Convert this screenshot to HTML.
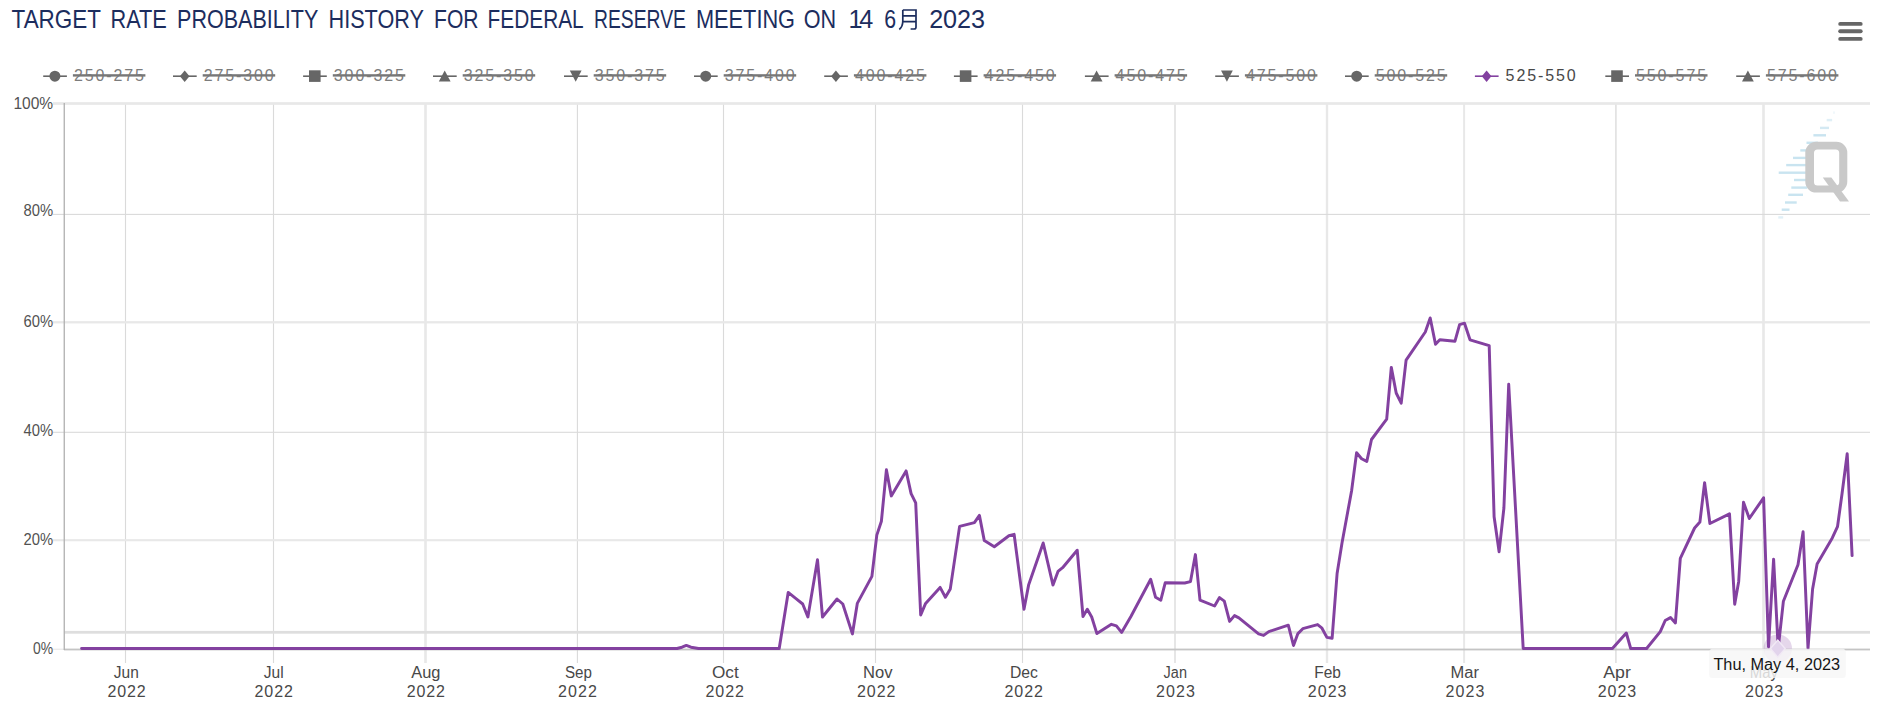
<!DOCTYPE html>
<html><head><meta charset="utf-8"><title>Target Rate Probability History</title>
<style>
html,body{margin:0;padding:0;background:#fff;}
body{width:1881px;height:723px;overflow:hidden;font-family:"Liberation Sans",sans-serif;}
svg{display:block;}
text{font-family:"Liberation Sans",sans-serif;}
</style></head><body>
<svg width="1881" height="723" viewBox="0 0 1881 723">
<rect x="0" y="0" width="1881" height="723" fill="#ffffff"/>

<g id="title">
<text x="11.60" y="28" font-size="25.2" fill="#1c2d5e" textLength="89.43" lengthAdjust="spacingAndGlyphs">TARGET</text>
<text x="110.50" y="28" font-size="25.2" fill="#1c2d5e" textLength="56.37" lengthAdjust="spacingAndGlyphs">RATE</text>
<text x="177.00" y="28" font-size="25.2" fill="#1c2d5e" textLength="141.36" lengthAdjust="spacingAndGlyphs">PROBABILITY</text>
<text x="328.50" y="28" font-size="25.2" fill="#1c2d5e" textLength="95.45" lengthAdjust="spacingAndGlyphs">HISTORY</text>
<text x="434.00" y="28" font-size="25.2" fill="#1c2d5e" textLength="44.54" lengthAdjust="spacingAndGlyphs">FOR</text>
<text x="487.60" y="28" font-size="25.2" fill="#1c2d5e" textLength="96.07" lengthAdjust="spacingAndGlyphs">FEDERAL</text>
<text x="594.00" y="28" font-size="25.2" fill="#1c2d5e" textLength="91.98" lengthAdjust="spacingAndGlyphs">RESERVE</text>
<text x="696.00" y="28" font-size="25.2" fill="#1c2d5e" textLength="99.03" lengthAdjust="spacingAndGlyphs">MEETING</text>
<text x="803.80" y="28" font-size="25.2" fill="#1c2d5e" textLength="32.40" lengthAdjust="spacingAndGlyphs">ON</text>
<text x="848.60" y="28" font-size="25.2" fill="#1c2d5e" letter-spacing="-3.369">14</text>
<text x="884.20" y="28" font-size="25.2" fill="#1c2d5e" textLength="11.84" lengthAdjust="spacingAndGlyphs">6</text>
<text x="929.20" y="28" font-size="25.2" fill="#1c2d5e" letter-spacing="-0.071">2023</text>
<path d="M902.8 10.0 H916.0 V27.3 Q916.0 29.0 914.0 29.0 H910.6 M902.8 10.0 V21 Q902.8 26.6 899.3 29.5 M902.8 15.8 H916.0 M902.8 21.6 H916.0" fill="none" stroke="#1c2d5e" stroke-width="1.7"/>
</g>
<g stroke="#666666" stroke-width="3.9" stroke-linecap="round"><line x1="1840.2" y1="23.9" x2="1860.7" y2="23.9"/><line x1="1840.2" y1="31.2" x2="1860.7" y2="31.2"/><line x1="1840.2" y1="38.9" x2="1860.7" y2="38.9"/></g>
<g id="legend">
<line x1="43.2" y1="76.2" x2="66.9" y2="76.2" stroke="#666666" stroke-width="1.6"/>
<circle cx="54.9" cy="76.2" r="5.5" fill="#666666"/>
<text x="73.90" y="81" font-size="16" fill="#7c7c7c" letter-spacing="1.892">250-275</text>
<rect x="72.9" y="74.2" width="72.5" height="2.4" fill="#777777"/>
<line x1="173.0" y1="76.2" x2="196.7" y2="76.2" stroke="#666666" stroke-width="1.6"/>
<path d="M184.7 70.4 L189.5 76.2 L184.7 82.0 L179.9 76.2 Z" fill="#666666"/>
<text x="203.70" y="81" font-size="16" fill="#7c7c7c" letter-spacing="1.892">275-300</text>
<rect x="202.7" y="74.2" width="72.5" height="2.4" fill="#777777"/>
<line x1="303.1" y1="76.2" x2="326.8" y2="76.2" stroke="#666666" stroke-width="1.6"/>
<rect x="309.0" y="70.3" width="11.6" height="11.6" fill="#666666"/>
<text x="333.80" y="81" font-size="16" fill="#7c7c7c" letter-spacing="1.892">300-325</text>
<rect x="332.8" y="74.2" width="72.5" height="2.4" fill="#777777"/>
<line x1="433.0" y1="76.2" x2="456.7" y2="76.2" stroke="#666666" stroke-width="1.6"/>
<path d="M444.7 70.4 L450.6 81.6 L438.8 81.6 Z" fill="#666666"/>
<text x="463.70" y="81" font-size="16" fill="#7c7c7c" letter-spacing="1.892">325-350</text>
<rect x="462.7" y="74.2" width="72.5" height="2.4" fill="#777777"/>
<line x1="564.0" y1="76.2" x2="587.7" y2="76.2" stroke="#666666" stroke-width="1.6"/>
<path d="M569.8 70.6 L581.6 70.6 L575.7 81.8 Z" fill="#666666"/>
<text x="594.70" y="81" font-size="16" fill="#7c7c7c" letter-spacing="1.892">350-375</text>
<rect x="593.7" y="74.2" width="72.5" height="2.4" fill="#777777"/>
<line x1="694.0" y1="76.2" x2="717.7" y2="76.2" stroke="#666666" stroke-width="1.6"/>
<circle cx="705.7" cy="76.2" r="5.5" fill="#666666"/>
<text x="724.70" y="81" font-size="16" fill="#7c7c7c" letter-spacing="1.892">375-400</text>
<rect x="723.7" y="74.2" width="72.5" height="2.4" fill="#777777"/>
<line x1="824.2" y1="76.2" x2="847.9" y2="76.2" stroke="#666666" stroke-width="1.6"/>
<path d="M835.9 70.4 L840.7 76.2 L835.9 82.0 L831.1 76.2 Z" fill="#666666"/>
<text x="854.90" y="81" font-size="16" fill="#7c7c7c" letter-spacing="1.892">400-425</text>
<rect x="853.9" y="74.2" width="72.5" height="2.4" fill="#777777"/>
<line x1="953.9" y1="76.2" x2="977.6" y2="76.2" stroke="#666666" stroke-width="1.6"/>
<rect x="959.8" y="70.3" width="11.6" height="11.6" fill="#666666"/>
<text x="984.60" y="81" font-size="16" fill="#7c7c7c" letter-spacing="1.892">425-450</text>
<rect x="983.6" y="74.2" width="72.5" height="2.4" fill="#777777"/>
<line x1="1084.9" y1="76.2" x2="1108.6" y2="76.2" stroke="#666666" stroke-width="1.6"/>
<path d="M1096.6 70.4 L1102.5 81.6 L1090.7 81.6 Z" fill="#666666"/>
<text x="1115.60" y="81" font-size="16" fill="#7c7c7c" letter-spacing="1.892">450-475</text>
<rect x="1114.6" y="74.2" width="72.5" height="2.4" fill="#777777"/>
<line x1="1215.2" y1="76.2" x2="1238.9" y2="76.2" stroke="#666666" stroke-width="1.6"/>
<path d="M1221.0 70.6 L1232.8 70.6 L1226.9 81.8 Z" fill="#666666"/>
<text x="1245.90" y="81" font-size="16" fill="#7c7c7c" letter-spacing="1.892">475-500</text>
<rect x="1244.9" y="74.2" width="72.5" height="2.4" fill="#777777"/>
<line x1="1345.0" y1="76.2" x2="1368.7" y2="76.2" stroke="#666666" stroke-width="1.6"/>
<circle cx="1356.7" cy="76.2" r="5.5" fill="#666666"/>
<text x="1375.70" y="81" font-size="16" fill="#7c7c7c" letter-spacing="1.892">500-525</text>
<rect x="1374.7" y="74.2" width="72.5" height="2.4" fill="#777777"/>
<line x1="1474.9" y1="76.2" x2="1498.6" y2="76.2" stroke="#8341a0" stroke-width="1.6"/>
<path d="M1486.6 70.4 L1491.4 76.2 L1486.6 82.0 L1481.8 76.2 Z" fill="#8341a0"/>
<text x="1505.60" y="81" font-size="16" fill="#484848" letter-spacing="1.892">525-550</text>
<line x1="1605.3" y1="76.2" x2="1629.0" y2="76.2" stroke="#666666" stroke-width="1.6"/>
<rect x="1611.2" y="70.3" width="11.6" height="11.6" fill="#666666"/>
<text x="1636.00" y="81" font-size="16" fill="#7c7c7c" letter-spacing="1.892">550-575</text>
<rect x="1635.0" y="74.2" width="72.5" height="2.4" fill="#777777"/>
<line x1="1736.2" y1="76.2" x2="1759.9" y2="76.2" stroke="#666666" stroke-width="1.6"/>
<path d="M1747.9 70.4 L1753.8 81.6 L1742.0 81.6 Z" fill="#666666"/>
<text x="1766.90" y="81" font-size="16" fill="#7c7c7c" letter-spacing="1.892">575-600</text>
<rect x="1765.9" y="74.2" width="72.5" height="2.4" fill="#777777"/>
</g>
<g id="grid">
<rect x="124.95" y="103" width="1.1" height="560" fill="#dadada"/>
<rect x="272.95" y="103" width="1.1" height="560" fill="#dadada"/>
<rect x="424.20" y="103" width="2.6" height="560" fill="#e8e8e8"/>
<rect x="576.85" y="103" width="1.1" height="560" fill="#dadada"/>
<rect x="722.95" y="103" width="1.1" height="560" fill="#dadada"/>
<rect x="874.95" y="103" width="1.1" height="560" fill="#dadada"/>
<rect x="1021.95" y="103" width="1.1" height="560" fill="#dadada"/>
<rect x="1174.15" y="103" width="1.7" height="560" fill="#e2e2e2"/>
<rect x="1325.80" y="103" width="2.4" height="560" fill="#e8e8e8"/>
<rect x="1463.10" y="103" width="2.0" height="560" fill="#e8e8e8"/>
<rect x="1615.05" y="103" width="1.7" height="560" fill="#e2e2e2"/>
<rect x="1762.20" y="103" width="2.6" height="560" fill="#e8e8e8"/>
<rect x="53" y="102.15" width="1817" height="2.7" fill="#e8e8e8"/>
<rect x="53" y="213.85" width="1817" height="1.1" fill="#dadada"/>
<rect x="53" y="321.15" width="1817" height="2.3" fill="#e8e8e8"/>
<rect x="53" y="431.75" width="1817" height="1.1" fill="#dadada"/>
<rect x="53" y="539.15" width="1817" height="2.1" fill="#e8e8e8"/>
<rect x="64" y="630.9" width="1806" height="2.8" fill="#dedede"/>
<rect x="53" y="648.6" width="11" height="1.4" fill="#ececec"/>
<rect x="64" y="648.6" width="1806" height="1.8" fill="#c4c4c4"/>
<rect x="63.6" y="103" width="1.3" height="547" fill="#b0b0b0"/>
</g>
<g id="ylabels">
<text x="13.40" y="109" font-size="16" fill="#525252" textLength="39.75" lengthAdjust="spacingAndGlyphs">100%</text>
<text x="23.50" y="216" font-size="16" fill="#525252" textLength="29.62" lengthAdjust="spacingAndGlyphs">80%</text>
<text x="23.50" y="327" font-size="16" fill="#525252" textLength="29.62" lengthAdjust="spacingAndGlyphs">60%</text>
<text x="23.50" y="436" font-size="16" fill="#525252" textLength="29.62" lengthAdjust="spacingAndGlyphs">40%</text>
<text x="23.50" y="545" font-size="16" fill="#525252" textLength="29.62" lengthAdjust="spacingAndGlyphs">20%</text>
<text x="33.00" y="654" font-size="16" fill="#525252" textLength="20.10" lengthAdjust="spacingAndGlyphs">0%</text>
</g>
<g id="xlabels">
<text x="113.80" y="678" font-size="16" fill="#484848" textLength="24.95" lengthAdjust="spacingAndGlyphs">Jun</text>
<text x="107.50" y="697" font-size="16" fill="#484848" letter-spacing="0.892">2022</text>
<text x="263.80" y="678" font-size="16" fill="#484848" textLength="19.85" lengthAdjust="spacingAndGlyphs">Jul</text>
<text x="254.50" y="697" font-size="16" fill="#484848" letter-spacing="0.958">2022</text>
<text x="411.30" y="678" font-size="16" fill="#484848" textLength="29.17" lengthAdjust="spacingAndGlyphs">Aug</text>
<text x="406.80" y="697" font-size="16" fill="#484848" letter-spacing="0.858">2022</text>
<text x="565.00" y="678" font-size="16" fill="#484848" textLength="26.97" lengthAdjust="spacingAndGlyphs">Sep</text>
<text x="558.00" y="697" font-size="16" fill="#484848" letter-spacing="1.125">2022</text>
<text x="712.00" y="678" font-size="16" fill="#484848" textLength="26.72" lengthAdjust="spacingAndGlyphs">Oct</text>
<text x="705.50" y="697" font-size="16" fill="#484848" letter-spacing="0.958">2022</text>
<text x="863.00" y="678" font-size="16" fill="#484848" textLength="29.45" lengthAdjust="spacingAndGlyphs">Nov</text>
<text x="857.00" y="697" font-size="16" fill="#484848" letter-spacing="0.958">2022</text>
<text x="1010.00" y="678" font-size="16" fill="#484848" textLength="27.95" lengthAdjust="spacingAndGlyphs">Dec</text>
<text x="1004.50" y="697" font-size="16" fill="#484848" letter-spacing="0.958">2022</text>
<text x="1163.60" y="678" font-size="16" fill="#484848" textLength="23.34" lengthAdjust="spacingAndGlyphs">Jan</text>
<text x="1156.10" y="697" font-size="16" fill="#484848" letter-spacing="1.058">2023</text>
<text x="1314.30" y="678" font-size="16" fill="#484848" textLength="26.65" lengthAdjust="spacingAndGlyphs">Feb</text>
<text x="1307.80" y="697" font-size="16" fill="#484848" letter-spacing="1.025">2023</text>
<text x="1450.60" y="678" font-size="16" fill="#484848" textLength="28.36" lengthAdjust="spacingAndGlyphs">Mar</text>
<text x="1445.60" y="697" font-size="16" fill="#484848" letter-spacing="1.058">2023</text>
<text x="1603.30" y="678" font-size="16" fill="#484848" textLength="27.53" lengthAdjust="spacingAndGlyphs">Apr</text>
<text x="1597.80" y="697" font-size="16" fill="#484848" letter-spacing="0.892">2023</text>
<text x="1749.80" y="678" font-size="16" fill="#484848" textLength="28.18" lengthAdjust="spacingAndGlyphs">May</text>
<text x="1745.00" y="697" font-size="16" fill="#484848" letter-spacing="0.825">2023</text>
</g>
<g id="logo">
<rect x="1833" y="111.4" width="2.0" height="2.4" fill="#c9e4f0" fill-opacity="0.25"/>
<rect x="1826.7" y="118.9" width="5.4" height="2.4" fill="#c9e4f0" fill-opacity="0.6"/>
<rect x="1820" y="126.7" width="9.0" height="2.4" fill="#c9e4f0" fill-opacity="0.8"/>
<rect x="1813.4" y="134.1" width="12.6" height="2.4" fill="#c9e4f0" fill-opacity="1"/>
<rect x="1806.5" y="141.6" width="11.5" height="2.4" fill="#c9e4f0" fill-opacity="1"/>
<rect x="1800.3" y="149.2" width="5.7" height="2.4" fill="#c9e4f0" fill-opacity="1"/>
<rect x="1793" y="156.7" width="13.0" height="2.4" fill="#c9e4f0" fill-opacity="1"/>
<rect x="1786.2" y="163.9" width="19.8" height="2.4" fill="#c9e4f0" fill-opacity="1"/>
<rect x="1778.7" y="171.5" width="27.3" height="2.4" fill="#c9e4f0" fill-opacity="1"/>
<rect x="1794" y="178.8" width="12.0" height="2.4" fill="#c9e4f0" fill-opacity="1"/>
<rect x="1791.3" y="186.4" width="16.1" height="2.4" fill="#c9e4f0" fill-opacity="1"/>
<rect x="1788.2" y="193.6" width="14.8" height="2.4" fill="#c9e4f0" fill-opacity="1"/>
<rect x="1785" y="201.3" width="11.7" height="2.4" fill="#c9e4f0" fill-opacity="1"/>
<rect x="1781.7" y="208.5" width="7.8" height="2.4" fill="#c9e4f0" fill-opacity="1"/>
<rect x="1778.3" y="216.2" width="4.9" height="2.4" fill="#c9e4f0" fill-opacity="0.55"/>
<path fill-rule="evenodd" fill="#c9c9c9" d="M1816.3 141.8 H1836.3 A11 11 0 0 1 1847.3 152.8 V181.6 A11 11 0 0 1 1836.3 192.6 H1816.3 A11 11 0 0 1 1805.3 181.6 V152.8 A11 11 0 0 1 1816.3 141.8 Z M1817.5 149.4 H1835.7 A3.5 3.5 0 0 1 1839.2 152.9 V182.0 A3.5 3.5 0 0 1 1835.7 185.5 H1817.5 A3.5 3.5 0 0 1 1814 182.0 V152.9 A3.5 3.5 0 0 1 1817.5 149.4 Z"/>
<path d="M1822.8 177.4 L1831.4 177.4 L1849 201.4 L1840 201.4 Z" fill="#c9c9c9"/>
</g>
<polyline points="81.6,648.5 677.0,648.5 682.0,647.2 686.3,645.4 691.0,647.2 698.5,648.5 779.2,648.5 788.2,592.4 796.3,598.8 802.7,604.0 807.9,617.0 817.5,559.8 822.5,617.0 837.0,599.0 842.8,604.0 852.4,633.9 857.3,603.4 871.9,576.4 876.8,535.1 881.4,521.2 886.4,469.8 891.3,495.9 906.1,470.9 911.1,493.6 915.7,502.9 920.7,615.0 925.6,603.4 940.1,587.4 945.4,597.3 950.3,588.9 959.6,526.4 974.4,522.6 979.4,515.4 984.3,540.6 994.3,546.7 1008.9,535.7 1014.1,534.3 1024.0,609.2 1028.6,585.1 1043.2,543.0 1053.0,585.1 1058.0,571.4 1062.6,567.7 1077.2,550.2 1083.0,616.5 1087.3,609.2 1091.7,617.0 1096.9,633.6 1111.4,624.3 1116.4,625.8 1121.6,632.4 1130.9,616.5 1150.7,579.3 1155.6,597.3 1160.8,600.2 1165.2,582.8 1184.7,583.0 1190.5,581.6 1195.4,554.6 1200.0,600.2 1214.6,606.0 1219.5,597.6 1224.3,601.1 1229.6,621.4 1234.5,615.6 1238.9,617.9 1258.6,633.9 1263.6,635.4 1268.8,631.6 1288.3,625.2 1293.5,645.5 1297.9,633.6 1302.8,628.7 1317.6,624.6 1321.7,627.8 1326.9,637.4 1332.1,638.3 1337.1,573.5 1342.0,543.0 1351.6,490.7 1356.6,452.7 1361.6,458.8 1366.8,461.4 1371.5,439.5 1386.7,419.1 1391.3,367.4 1396.2,393.0 1401.2,403.1 1406.1,360.1 1425.3,332.0 1430.2,318.0 1435.5,344.2 1439.8,339.8 1454.9,341.3 1459.6,324.7 1464.5,323.2 1470.0,339.8 1489.2,345.6 1494.1,516.8 1499.1,551.7 1503.9,508.0 1508.7,384.3 1523.2,648.5 1612.4,648.5 1626.3,633.0 1630.7,648.5 1646.6,648.5 1660.3,631.6 1665.2,620.5 1670.5,617.6 1675.4,622.9 1680.3,558.4 1694.6,528.0 1699.9,522.0 1704.6,482.7 1709.9,523.5 1729.5,513.9 1734.7,604.2 1738.7,581.4 1743.5,502.3 1749.3,518.5 1763.6,497.8 1768.5,646.8 1773.6,559.2 1778.2,648.3 1783.4,601.2 1798.0,564.7 1803.1,531.8 1808.0,648.3 1812.6,589.0 1817.1,564.1 1832.3,537.9 1837.5,526.7 1842.1,493.2 1847.2,453.7 1852.1,555.6" fill="none" stroke="#8341a0" stroke-width="2.95" stroke-linejoin="round" stroke-linecap="round"/>
<circle cx="1777.8" cy="648.6" r="14.2" fill="#8341a0" fill-opacity="0.21"/>
<rect x="1709.2" y="648.8" width="136.6" height="29.3" rx="3.5" ry="3.5" fill="#f6f6f6" fill-opacity="0.82"/>
<text x="1713.40" y="670" font-size="16" fill="#151515" textLength="126.72" lengthAdjust="spacingAndGlyphs">Thu, May 4, 2023</text>
<path d="M1777.8 640.1 L1785.1 648.6 L1777.8 657.1 L1770.5 648.6 Z" fill="#e2d4ec" stroke="#f1e9f5" stroke-width="1.4"/>
</svg></body></html>
